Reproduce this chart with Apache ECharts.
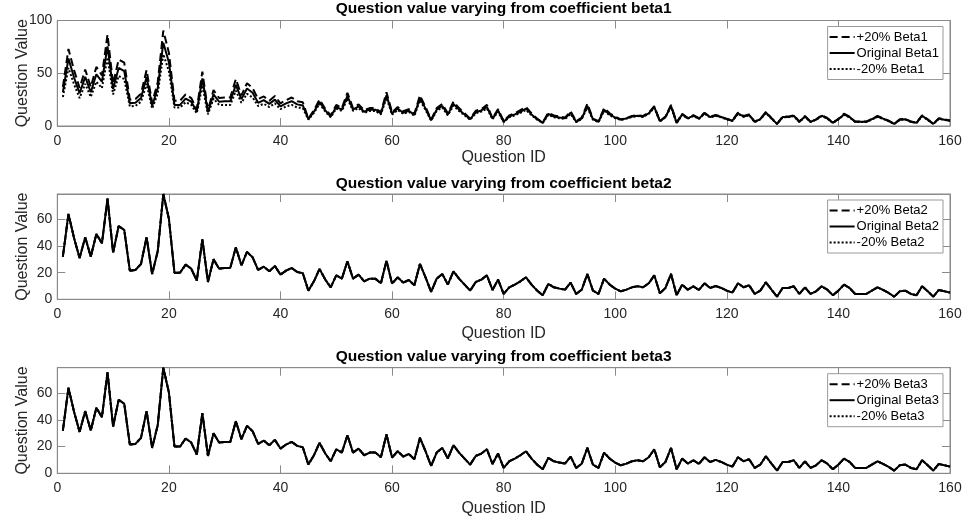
<!DOCTYPE html>
<html>
<head>
<meta charset="utf-8">
<script src="https://cdn.jsdelivr.net/npm/echarts@6/dist/echarts.min.js"></script>
<style>
  html, body { margin: 0; padding: 0; background: #ffffff; }
  #chart { width: 966px; height: 523px; }
</style>
</head>
<body>
<div id="chart"></div>
<script>
// Question values per question (ID 1..160), original coefficients
const originalValues = [
  32, 64, 46, 31, 46.5, 32, 49, 42, 75.5, 35,
  55, 52, 21.5, 22, 26.5, 46.5, 19, 36, 79, 60.5,
  20, 20, 26, 23, 14, 45, 13, 30, 23, 23.5,
  23.5, 39, 25.5, 35.5, 31.5, 22, 24.5, 21, 25, 18.5,
  21.5, 23.5, 20.5, 19.5, 6.5, 13.5, 22.8, 15, 9, 18,
  15.5, 28.5, 15.5, 18.5, 13.5, 15.5, 15.5, 12, 29, 11.75,
  16.5, 12.5, 14.5, 10.5, 26.5, 16.5, 5.5, 15.5, 19, 11,
  21, 15.5, 11, 6.5, 13, 14.75, 18, 7, 14.75, 4,
  9, 11, 13.5, 16.5, 11, 6.5, 3, 11.5, 9, 8,
  7.25, 12.5, 4, 7.25, 19, 6.5, 4, 15.5, 11, 8,
  6, 7.25, 9, 9.75, 9, 12, 18, 4.5, 8.5, 19,
  3, 11, 7.25, 9.75, 7, 12, 8.5, 10, 8.5, 6.5,
  5, 12, 9, 10.5, 4, 6.5, 12.75, 7.25, 2, 8.5,
  8.5, 9.75, 4, 9, 4, 6, 9.75, 7.25, 3, 6.5,
  11, 8.5, 4, 4, 4, 6.5, 9, 7, 4.75, 2,
  6, 6.5, 4, 3, 9.75, 6, 2, 7, 6, 5
];

// Question values with beta1 raised by 20%
const plusBeta1Values = [
  37, 73, 53, 36, 53.5, 37, 56, 48, 86.5, 40,
  63, 60, 25, 25.5, 30.5, 53, 22, 41.5, 90.5, 69.5,
  24, 24, 30, 26.5, 16, 51.5, 15, 34, 26.5, 27,
  27, 44.5, 29, 40.5, 36, 25.5, 28, 24, 28.5, 21.5,
  24.5, 27, 23.5, 22.5, 7, 15, 25, 16.5, 10, 20,
  17, 31.5, 17, 20.5, 15, 17, 17, 13, 32, 13,
  18, 14, 16, 11.5, 29, 18, 6, 17, 21, 12,
  23, 17, 12, 7, 14.5, 16, 20, 7.5, 16, 4.5,
  10, 12, 15, 18, 12, 7, 3.3, 12.5, 10, 9,
  8, 14, 4.5, 8, 21, 7, 4.5, 17, 12, 9,
  6.3, 7.6, 9.5, 10.2, 9.5, 12.6, 18.9, 4.7, 8.9, 20,
  3.2, 11.6, 7.6, 10.2, 7.4, 12.6, 8.9, 10.5, 8.9, 6.8,
  5.3, 12.6, 9.5, 11, 4.2, 6.8, 13.4, 7.6, 2.1, 8.9,
  8.9, 10.2, 4.2, 9.5, 4.2, 6.3, 10.2, 7.6, 3.2, 6.8,
  11.6, 8.9, 4.2, 4.2, 4.2, 6.8, 9.5, 7.4, 5, 2.1,
  6.3, 6.8, 4.2, 3.2, 10.2, 6.3, 2.1, 7.4, 6.3, 5.3
];

// Question values with beta1 lowered by 20%
const minusBeta1Values = [
  27.5, 55, 39.5, 26.5, 40, 27.5, 42, 36, 65, 30,
  47.5, 44.5, 18.5, 19, 23, 40, 16.5, 31, 68, 52,
  17.5, 17.5, 22.5, 20, 12, 38.5, 11, 26, 20, 20,
  20, 33.5, 22, 30.5, 27, 19, 21, 18, 21.5, 16,
  18.5, 20, 17.5, 17, 6, 12.5, 21, 14, 8.3, 16.5,
  14.3, 26, 14.3, 17, 12.4, 14.3, 14.3, 11, 26.7, 10.8,
  15.2, 11.5, 13.3, 9.7, 24.4, 15.2, 5.1, 14.3, 17.5, 10.1,
  19.3, 14.3, 10.1, 6, 12, 13.6, 16.6, 6.4, 13.6, 3.7,
  8.3, 10.1, 12.4, 15.2, 10.1, 6, 2.8, 10.6, 8.3, 7.4,
  6.7, 11.5, 3.7, 6.7, 17.5, 6, 3.7, 14.3, 10.1, 7.4,
  5.8, 7, 8.6, 9.4, 8.6, 11.5, 17.3, 4.3, 8.2, 18.2,
  2.9, 10.6, 7, 9.4, 6.7, 11.5, 8.2, 9.6, 8.2, 6.2,
  4.8, 11.5, 8.6, 10.1, 3.8, 6.2, 12.2, 7, 1.9, 8.2,
  8.2, 9.4, 3.8, 8.6, 3.8, 5.8, 9.4, 7, 2.9, 6.2,
  10.6, 8.2, 3.8, 3.8, 3.8, 6.2, 8.6, 6.7, 4.6, 1.9,
  5.8, 6.2, 3.8, 2.9, 9.4, 5.8, 1.9, 6.7, 5.8, 4.8
];

// beta2 and beta3 perturbations leave the values essentially unchanged
const plusBeta2Values = originalValues;
const minusBeta2Values = originalValues;
const plusBeta3Values = originalValues;
const minusBeta3Values = originalValues;

const panelTitles = [
  'Question value varying from coefficient beta1',
  'Question value varying from coefficient beta2',
  'Question value varying from coefficient beta3'
];
const coefficientNames = ['Beta1', 'Beta2', 'Beta3'];
const panelSeries = [
  [plusBeta1Values, originalValues, minusBeta1Values],
  [plusBeta2Values, originalValues, minusBeta2Values],
  [plusBeta3Values, originalValues, minusBeta3Values]
];
const yLimits = [[0, 100, 50], [0, 79, 20], [0, 79, 20]];
const xLimits = [0, 160, 20];

const FONT = '"Liberation Sans", Arial, Helvetica, sans-serif';
const AXIS_GRAY = '#8a8a8a';
const TEXT_DARK = '#262626';

const gridBoxes = [
  { top: 20.5, height: 105.5, xNameGap: 24, titleCenter: 8.5 },
  { top: 194, height: 105.3, xNameGap: 26, titleCenter: 183.3 },
  { top: 367.7, height: 105.6, xNameGap: 27, titleCenter: 356.7 }
];

const toPoints = arr => arr.map((v, i) => [i + 1, v]);

const grids = [], xAxes = [], yAxes = [], series = [], legends = [], titles = [];

gridBoxes.forEach((box, p) => {
  grids.push({ left: 57.3, width: 892.7, top: box.top, height: box.height,
               show: true, borderColor: AXIS_GRAY, borderWidth: 1, backgroundColor: '#fff' });

  const tickCommon = { show: true, inside: true, length: 8, lineStyle: { color: AXIS_GRAY, width: 1 } };

  // bottom x axis with labels
  xAxes.push({
    type: 'value', gridIndex: p, position: 'bottom',
    min: xLimits[0], max: xLimits[1], interval: xLimits[2],
    axisLine: { show: true, onZero: false, lineStyle: { color: AXIS_GRAY } },
    axisTick: tickCommon,
    splitLine: { show: false },
    axisLabel: { color: TEXT_DARK, fontFamily: FONT, fontSize: 14, margin: 8 },
    name: 'Question ID', nameLocation: 'middle', nameGap: box.xNameGap, nameMoveOverlap: false,
    nameTextStyle: { color: TEXT_DARK, fontFamily: FONT, fontSize: 16 }
  });
  // top x axis (box ticks)
  xAxes.push({
    type: 'value', gridIndex: p, position: 'top',
    min: xLimits[0], max: xLimits[1], interval: xLimits[2],
    axisLine: { show: true, onZero: false, lineStyle: { color: AXIS_GRAY } },
    axisTick: tickCommon, axisLabel: { show: false }, splitLine: { show: false }
  });

  const [ymin, ymax, yint] = yLimits[p];
  yAxes.push({
    type: 'value', gridIndex: p, position: 'left',
    min: ymin, max: ymax, interval: yint,
    axisLine: { show: true, onZero: false, lineStyle: { color: AXIS_GRAY } },
    axisTick: tickCommon, splitLine: { show: false },
    axisLabel: { color: TEXT_DARK, fontFamily: FONT, fontSize: 14, margin: 5,
                 showMaxLabel: ymax % yint === 0 },
    name: 'Question Value', nameLocation: 'middle', nameGap: 26.5, nameMoveOverlap: false,
    nameTextStyle: { color: TEXT_DARK, fontFamily: FONT, fontSize: 16 }
  });
  yAxes.push({
    type: 'value', gridIndex: p, position: 'right',
    min: ymin, max: ymax, interval: yint,
    axisLine: { show: true, onZero: false, lineStyle: { color: AXIS_GRAY } },
    axisTick: tickCommon, axisLabel: { show: false }, splitLine: { show: false }
  });

  const names = ['+20% ' + coefficientNames[p], 'Original ' + coefficientNames[p], '-20% ' + coefficientNames[p]];
  const styles = ['dashed', 'solid', 'dotted'];
  panelSeries[p].forEach((vals, k) => {
    series.push({
      type: 'line', name: names[k], xAxisIndex: p * 2, yAxisIndex: p * 2,
      data: toPoints(vals), symbol: 'none', smooth: false, animation: false,
      lineStyle: { color: '#000', width: 2, type: styles[k] },
      itemStyle: { color: '#000' }, z: 2 + k
    });
  });

  legends.push({
    orient: 'vertical', right: 23, top: box.top + 6,
    data: names, selectedMode: false,
    backgroundColor: '#fff', borderColor: '#9a9a9a', borderWidth: 1, borderRadius: 0,
    padding: [4, 4, 4, 1], itemGap: 3, itemWidth: 25, itemHeight: 14,
    itemStyle: { opacity: 0 },
    lineStyle: { width: 2 },
    textStyle: { color: '#000', fontFamily: FONT, fontSize: 13, padding: [0, 0, 0, -3] }
  });

  titles.push({
    text: panelTitles[p], left: 503.6, top: box.titleCenter - 8, textAlign: 'center', padding: 0,
    textStyle: { color: '#000', fontFamily: FONT, fontSize: 15.5, fontWeight: 'bold' }
  });
});

const chart = echarts.init(document.getElementById('chart'), null, { renderer: 'canvas' });
chart.setOption({
  backgroundColor: '#ffffff',
  animation: false,
  title: titles,
  grid: grids,
  xAxis: xAxes,
  yAxis: yAxes,
  legend: legends,
  series: series
});
</script>
</body>
</html>
